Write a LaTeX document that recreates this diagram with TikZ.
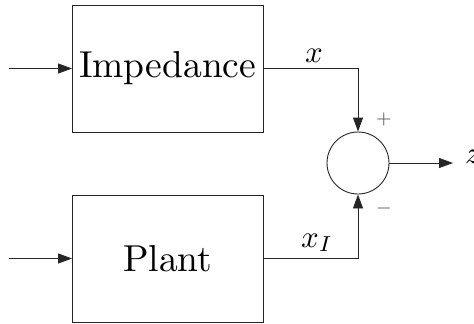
\documentclass[tikz,border=0pt]{standalone}
\usepackage{fontspec}
\usepackage{graphicx}
\usetikzlibrary{arrows.meta}
\begin{document}
\begin{tikzpicture}[x=1pt,y=-1pt,
  line/.style={draw=black!85,line width=0.9pt},
  arr/.style={line,-{Triangle[length=14pt,width=10pt]}},
  blockbox/.style={line,rectangle,minimum width=190.5pt,minimum height=127pt,inner sep=0pt},
  sumnode/.style={line,circle,minimum size=62pt,inner sep=0pt},
  lab/.style={inner sep=0pt},
  sign/.style={inner sep=0pt,text=black!70}]
\useasboundingbox (0,0) rectangle (474,324);
\node[blockbox] (imp) at (167.75,68.5) {\scalebox{3.75}{Impedance}};
\node[blockbox] (plant) at (167.75,258.5) {\scalebox{3.75}{Plant}};
\node[sumnode] (sum) at (358,163) {};
\coordinate (in1) at (9,68.5);
\coordinate (in2) at (9,258.5);
\coordinate (out) at (453,163);
\draw[arr] (in1) -- (imp.west);
\draw[arr] (in2) -- (plant.west);
\draw[arr] (imp.east) -| (sum.north);
\draw[arr] (plant.east) -| (sum.south);
\draw[arr] (sum.east) -- (out);
\node[lab,anchor=base west] (z) at (465,163) {\scalebox{3.1}{$z$}};
\node[lab,anchor=base] (xl) at (314,62) {\scalebox{3.1}{$x$}};
\node[lab,anchor=base west] (xil) at (301,247) {\scalebox{3.1}{$x_I$}};
\node[sign] (plus) at (384,119) {\scalebox{2}{$+$}};
\node[sign] (minus) at (384,208) {\scalebox{2}{$-$}};
\end{tikzpicture}
\end{document}
